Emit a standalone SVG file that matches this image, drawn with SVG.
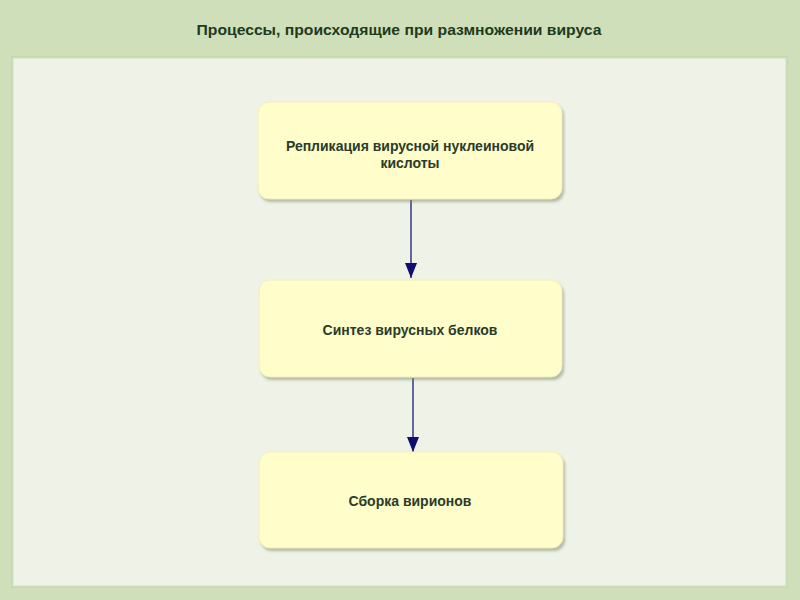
<svg xmlns="http://www.w3.org/2000/svg" width="800" height="600" viewBox="0 0 800 600">
<defs>
<style>
.node rect.box{fill:#fffdca;stroke:#f2eebc;stroke-width:1}
.node rect.sh{fill:#7d8a6c;opacity:0.55}
.lbl{font-family:"Liberation Sans",Arial,sans-serif;font-weight:bold;font-size:14px;fill:#2b3b2b;text-anchor:middle}
.edge{stroke:#1a1a7a;stroke-width:1.3;fill:none}
</style>
<marker id="ah" viewBox="0 0 10 10" refX="10" refY="5" markerWidth="15" markerHeight="12" markerUnits="userSpaceOnUse" orient="auto" preserveAspectRatio="none">
<path d="M0,0 L10,5 L0,10 Z" fill="#0f0f6e"/>
</marker>
<filter id="blur" x="-10%" y="-10%" width="120%" height="130%"><feGaussianBlur stdDeviation="1.5"/></filter>
</defs>
<rect x="0" y="0" width="800" height="600" fill="#cfdfb9"/>
<text x="399" y="35" font-family="'Liberation Sans',Arial,sans-serif" font-size="15" font-weight="bold" fill="#1e3a1e" text-anchor="middle" textLength="405" lengthAdjust="spacingAndGlyphs">Процессы, происходящие при размножении вируса</text>
<rect x="12" y="57" width="775" height="530" fill="#dfe9d0" stroke="#bfd0a8" stroke-width="1"/>
<rect x="14" y="59" width="771" height="526" fill="#eff3e7"/>
<g id="connectors">
<path class="edge" d="M411,200 V278" marker-end="url(#ah)"/>
<path class="edge" d="M413,378 V452" marker-end="url(#ah)"/>
</g>
<g id="n1" class="node">
<rect class="sh" x="260" y="105" width="304" height="97" rx="11" filter="url(#blur)"/>
<rect class="box" x="258" y="102" width="304" height="97" rx="11"/>
<text class="lbl" x="410" y="151">Репликация вирусной нуклеиновой</text>
<text class="lbl" x="410" y="168">кислоты</text>
</g>
<g id="n2" class="node">
<rect class="sh" x="261" y="283" width="303" height="97" rx="11" filter="url(#blur)"/>
<rect class="box" x="259" y="280" width="303" height="97" rx="11"/>
<text class="lbl" x="410" y="335">Синтез вирусных белков</text>
</g>
<g id="n3" class="node">
<rect class="sh" x="261" y="455" width="304" height="96" rx="11" filter="url(#blur)"/>
<rect class="box" x="259" y="452" width="304" height="96" rx="11"/>
<text class="lbl" x="410" y="506">Сборка вирионов</text>
</g>
</svg>
